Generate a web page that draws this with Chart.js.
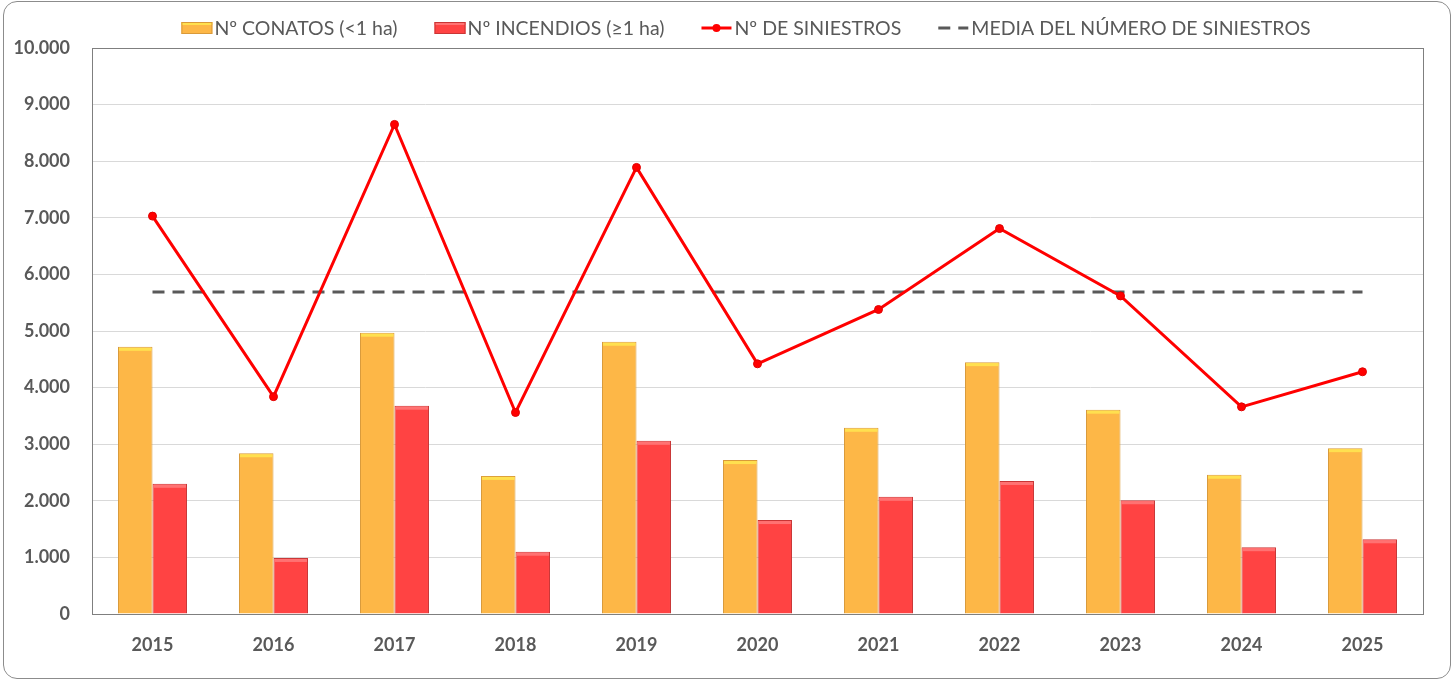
<!DOCTYPE html>
<html>
<head>
<meta charset="utf-8">
<script src="https://cdn.jsdelivr.net/npm/chart.js@4"></script>
<style>
  html, body { margin: 0; padding: 0; background: #fff; }
  .wrap { position: relative; width: 1456px; height: 683px; }
  .frame { position: absolute; left: 3px; top: 1px; width: 1446px; height: 676px;
           border: 1.5px solid #8c8c8c; border-radius: 14px; pointer-events: none; }
  canvas { position: absolute; left: 0; top: 0; }
</style>
</head>
<body>
<div class="wrap">
  <canvas id="chart" width="1456" height="683"></canvas>
  <div class="frame"></div>
</div>
<script>
// datos
const years = ['2015', '2016', '2017', '2018', '2019', '2020', '2021', '2022', '2023', '2024', '2025'];
const conatos = [4720, 2840, 4970, 2440, 4810, 2720, 3290, 4450, 3610, 2460, 2930];
const incendios = [2300, 990, 3680, 1100, 3060, 1660, 2070, 2350, 2010, 1180, 1320];
const siniestros = [7030, 3840, 8650, 3560, 7890, 4420, 5380, 6810, 5620, 3660, 4280];
const media = [5690, 5690, 5690, 5690, 5690, 5690, 5690, 5690, 5690, 5690, 5690];
const yTicks = [0, 1000, 2000, 3000, 4000, 5000, 6000, 7000, 8000, 9000, 10000];

const FONT = 'Lato, "Open Sans", sans-serif';
const GREY = '#595959';

const fmt = v => String(v).replace(/\B(?=(\d{3})+(?!\d))/g, '.');

// brillo en la parte de arriba de cada barra
const barTops = {
  id: 'barTops',
  afterDatasetsDraw(chart) {
    const ctx = chart.ctx;
    chart.data.datasets.forEach((ds, i) => {
      if (!ds.topColor) return;
      chart.getDatasetMeta(i).data.forEach(bar => {
        const w = bar.width;
        ctx.save();
        ctx.fillStyle = ds.topColor;
        ctx.fillRect(bar.x - w / 2 + 1, bar.y + 1, w - 2, 3);
        ctx.restore();
      });
    });
  }
};

// marco del area de trazado
const plotFrame = {
  id: 'plotFrame',
  afterDraw(chart) {
    const a = chart.chartArea;
    const ctx = chart.ctx;
    ctx.save();
    ctx.strokeStyle = '#7f7f7f';
    ctx.lineWidth = 1;
    ctx.strokeRect(a.left + 0.5, a.top + 0.5, a.right - a.left, a.bottom - a.top);
    ctx.restore();
  }
};

// leyenda propia (simbolos como en Excel)
const topLegend = {
  id: 'topLegend',
  afterDraw(chart) {
    const ctx = chart.ctx;
    const y = 28;
    ctx.save();
    ctx.font = '19.5px ' + FONT;
    ctx.textBaseline = 'middle';
    const items = chart.data.datasets.map(ds => ({ ds, w: 33 + ctx.measureText(ds.label).width }));
    const gap = 37;
    const total = items.reduce((s, it) => s + it.w, 0) + gap * (items.length - 1);
    let x = 746 - total / 2;
    items.forEach(({ ds, w }) => {
      if (ds.type === 'line') {
        ctx.strokeStyle = ds.borderColor;
        ctx.lineWidth = 3;
        ctx.setLineDash(ds.borderDash || []);
        ctx.beginPath();
        ctx.moveTo(x, y);
        ctx.lineTo(x + 30, y);
        ctx.stroke();
        ctx.setLineDash([]);
        if (ds.pointRadius > 0) {
          ctx.fillStyle = ds.pointBackgroundColor;
          ctx.beginPath();
          ctx.arc(x + 15, y, 4, 0, Math.PI * 2);
          ctx.fill();
        }
      } else {
        ctx.fillStyle = ds.backgroundColor;
        ctx.fillRect(x, y - 6, 31, 12);
        ctx.fillStyle = ds.topColor;
        ctx.fillRect(x, y - 6, 31, 3);
        ctx.strokeStyle = ds.borderColor;
        ctx.lineWidth = 1;
        ctx.strokeRect(x + 0.5, y - 5.5, 30, 11);
      }
      ctx.fillStyle = GREY;
      ctx.fillText(ds.label, x + 33, y + 1);
      x += w + gap;
    });
    ctx.restore();
  }
};

new Chart(document.getElementById('chart'), {
  type: 'bar',
  data: {
    labels: years,
    datasets: [
      {
        label: 'Nº CONATOS (<1 ha)',
        data: conatos,
        backgroundColor: '#FDB747',
        borderColor: '#D99A3A',
        topColor: '#FFE04F',
        borderWidth: 1,
        categoryPercentage: 0.57,
        barPercentage: 1,
        order: 2
      },
      {
        label: 'Nº INCENDIOS (≥1 ha)',
        data: incendios,
        backgroundColor: '#FF4343',
        borderColor: '#C93535',
        topColor: '#FF7272',
        borderWidth: 1,
        categoryPercentage: 0.57,
        barPercentage: 1,
        order: 3
      },
      {
        type: 'line',
        label: 'Nº DE SINIESTROS',
        data: siniestros,
        borderColor: '#FF0000',
        borderWidth: 3,
        pointRadius: 4,
        pointBackgroundColor: '#FF0000',
        pointBorderColor: '#E00000',
        pointBorderWidth: 1,
        tension: 0,
        order: 0
      },
      {
        type: 'line',
        label: 'MEDIA DEL NÚMERO DE SINIESTROS',
        data: media,
        borderColor: '#595959',
        borderWidth: 3,
        borderDash: [12, 8],
        pointRadius: 0,
        tension: 0,
        order: 1
      }
    ]
  },
  options: {
    responsive: false,
    animation: false,
    layout: { padding: { top: 48, right: 33, left: 0, bottom: 0 } },
    plugins: {
      legend: { display: false },
      tooltip: { enabled: false }
    },
    scales: {
      x: {
        grid: { display: false },
        border: { color: '#7f7f7f' },
        ticks: { color: GREY, font: { family: FONT, size: 18, weight: 'bold' }, padding: 12 },
        afterFit: s => { s.height = 69; }
      },
      y: {
        min: 0,
        max: 10000,
        afterBuildTicks: s => { s.ticks = yTicks.map(v => ({ value: v })); },
        grid: { color: '#d9d9d9', drawTicks: false },
        border: { color: '#7f7f7f' },
        ticks: {
          color: GREY,
          font: { family: FONT, size: 18, weight: 'bold' },
          padding: 22,
          callback: v => fmt(v)
        },
        afterFit: s => { s.width = 92; }
      }
    }
  },
  plugins: [barTops, plotFrame, topLegend]
});
</script>
</body>
</html>
